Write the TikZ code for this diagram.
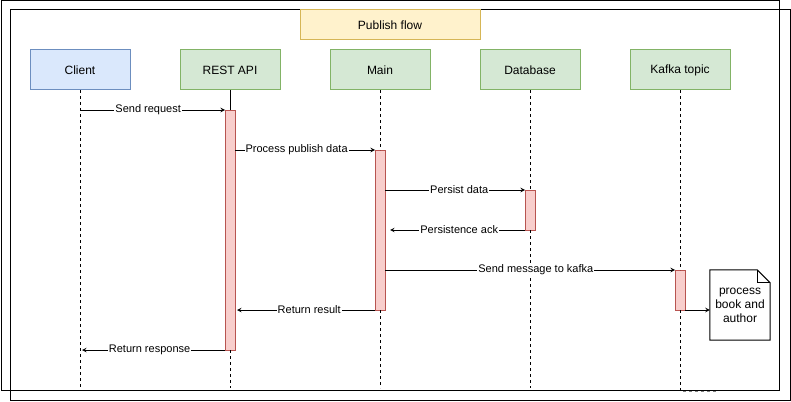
\documentclass[tikz,border=0pt]{standalone}
\usepackage{fontspec}
\setmainfont{Liberation Sans}
\usetikzlibrary{shapes,arrows,positioning,calc}

\definecolor{clientfill}{HTML}{DAE8FC}
\definecolor{clientdraw}{HTML}{6C8EBF}
\definecolor{servicefill}{HTML}{D5E8D4}
\definecolor{servicedraw}{HTML}{82B366}
\definecolor{barfill}{HTML}{F8CECC}
\definecolor{bardraw}{HTML}{B85450}
\definecolor{titlefill}{HTML}{FFF2CC}
\definecolor{titledraw}{HTML}{D6B656}

\begin{document}
\begin{tikzpicture}[
    x=1pt, y=-1pt,
    node distance=50pt,
    % Participant styles
    client/.style={rectangle, draw=clientdraw, fill=clientfill, line width=1pt, outer sep=0pt,
        minimum width=100pt, minimum height=40pt, text centered, font=\fontsize{12}{14}\selectfont},
    service/.style={rectangle, draw=servicedraw, fill=servicefill, line width=1pt, outer sep=0pt,
        minimum width=100pt, minimum height=40pt, text centered, font=\fontsize{12}{14}\selectfont},
    titlebox/.style={rectangle, draw=titledraw, fill=titlefill, line width=1pt,
        minimum width=180pt, minimum height=30pt, font=\fontsize{12}{14}\selectfont},
    % Activation bars and lifelines
    bar/.style={rectangle, draw=bardraw, fill=barfill, line width=1pt, outer sep=0pt,
        minimum width=10pt, inner sep=0pt, anchor=north},
    lifeline/.style={dashed, line width=0.8pt},
    % Message style
    msg/.style={->, >=stealth, line width=1pt},
    msglabel/.style={font=\fontsize{11}{13}\selectfont, fill=white, inner sep=1pt}
]
    \useasboundingbox (0,0) rectangle (791,401);

    % Frames
    \draw[line width=1pt] (1,1) rectangle (779,390);
    \draw[line width=1pt] (10,10) rectangle (790,400);

    % Title
    \node[titlebox] (title) at (390,25) {Publish flow};

    % Participants
    \node[client] (client) at (80,70) {Client};
    \node[service, right=of client] (rest) {REST API};
    \node[service, right=of rest] (main) {Main};
    \node[service, right=of main] (db) {Database};
    \node[service, right=of db] (kafka) {Kafka topic};

    % Activation bars
    \node[bar, minimum height=240pt] (restbar) at (rest.south |- 0,110) {};
    \node[bar, minimum height=160pt] (mainbar) at (main.south |- 0,150) {};
    \node[bar, minimum height=40pt] (dbbar) at (db.south |- 0,190) {};
    \node[bar, minimum height=40pt] (kafkabar) at (kafka.south |- 0,270) {};

    % Lifelines
    \coordinate (bottom) at (0,388);
    \draw[lifeline] (client.south) -- (client.south |- bottom);
    \draw[line width=0.8pt] (rest.south) -- (restbar.north);
    \draw[lifeline] (restbar.south) -- (rest.south |- bottom);
    \draw[lifeline] (main.south) -- (mainbar.north);
    \draw[lifeline] (mainbar.south) -- (main.south |- bottom);
    \draw[lifeline] (db.south) -- (dbbar.north);
    \draw[lifeline] (dbbar.south) -- (db.south |- bottom);
    \draw[lifeline] (kafka.south) -- (kafkabar.north);
    \draw[lifeline] (kafkabar.south) -- ($(kafka.south |- bottom)+(0,3)$) coordinate (kafkaend);
    \draw[lifeline, gray] ($(kafkaend)+(3,0)$) -- ++(34,0);

    % Note
    \node[minimum width=60pt, minimum height=70pt, inner sep=0pt, align=center,
        font=\fontsize{12}{14}\selectfont] (note) at (740,305) {process\\book and\\author};
    \draw[line width=1pt] (note.north west) -- ($(note.north east)+(-13,0)$)
        -- ($(note.north east)+(0,13)$) -- (note.south east) -- (note.south west) -- cycle;
    \draw[line width=0.8pt] ($(note.north east)+(-13,0)$) -- ++(0,13) -- ++(13,0);

    % Requests
    \draw[msg] (client.south |- restbar.north) -- (restbar.north west)
        node[msglabel, pos=0.47] {Send request};
    \draw[msg] (restbar.east |- mainbar.north) -- (mainbar.north west)
        node[msglabel, pos=0.44] {Process publish data};
    \draw[msg] (mainbar.east |- dbbar.north) -- (dbbar.north west)
        node[msglabel, pos=0.53] {Persist data};
    \draw[msg, shorten >=5pt] (dbbar.south west) -- (mainbar.east |- dbbar.south)
        node[msglabel, pos=0.47] {Persistence ack};
    \draw[msg] (mainbar.east |- kafkabar.north) -- (kafkabar.north west)
        node[msglabel, pos=0.52] {Send message to kafka};

    % Responses
    \draw[msg, shorten >=2pt] (mainbar.south west) -- (restbar.east |- mainbar.south)
        node[msglabel, pos=0.47] {Return result};
    \draw[msg, shorten >=2pt] (restbar.south west) -- (client.south |- restbar.south)
        node[msglabel, pos=0.52] {Return response};
    \draw[msg] (kafkabar.south east) -- (note.west |- kafkabar.south);
\end{tikzpicture}
\end{document}
